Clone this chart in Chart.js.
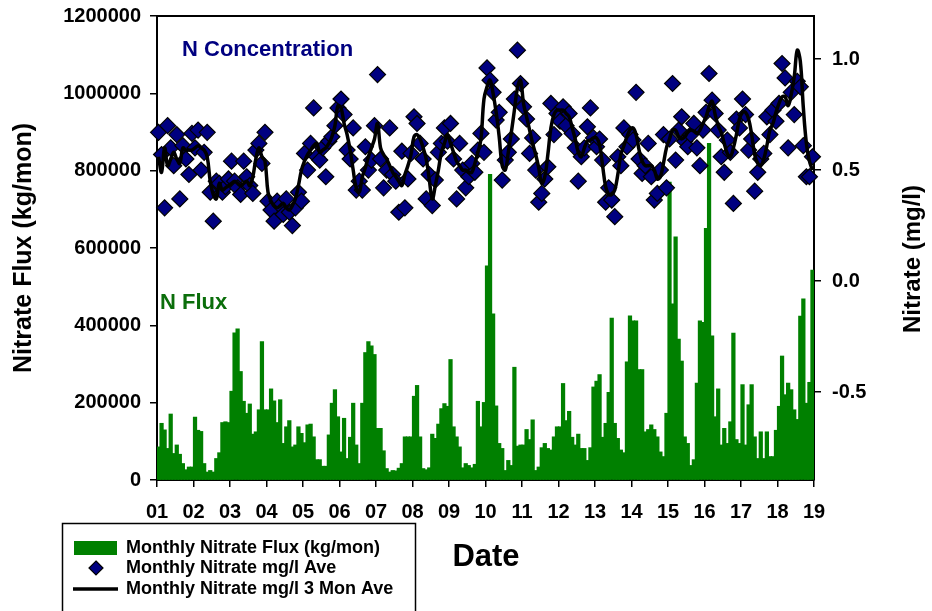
<!DOCTYPE html>
<html>
<head>
<meta charset="utf-8">
<script src="https://cdn.jsdelivr.net/npm/chart.js@4.4.1/dist/chart.umd.min.js"></script>
<style>
  html, body { margin: 0; padding: 0; background: #fff; }
  #wrap { position: relative; width: 932px; height: 611px; }
</style>
</head>
<body>
<div id="wrap"><canvas id="chart" width="932" height="611"></canvas></div>
<script>
const startYear = 2001;
const yearLabels = ['01','02','03','04','05','06','07','08','09','10','11','12','13','14','15','16','17','18','19'];
const leftTicks = [0, 200000, 400000, 600000, 800000, 1000000, 1200000];
const rightTicks = [-0.5, 0.0, 0.5, 1.0];

// monthly nitrate flux, kg/mon, Jan 2001 .. Dec 2018
const fluxKg = [
  85000, 146000, 129000, 81000, 170000, 68000, 90000, 66000, 42000, 26000, 33000, 33000,
  162000, 128000, 125000, 42000, 20000, 24000, 20000, 55000, 70000, 148000, 150000, 148000,
  229000, 380000, 390000, 280000, 203000, 172000, 196000, 118000, 124000, 181000, 357000, 181000,
  181000, 235000, 204000, 148000, 207000, 94000, 137000, 153000, 85000, 90000, 137000, 120000,
  96000, 142000, 144000, 111000, 52000, 52000, 35000, 35000, 116000, 198000, 233000, 163000,
  72000, 159000, 55000, 110000, 198000, 90000, 42000, 198000, 329000, 357000, 346000, 324000,
  133000, 133000, 75000, 29000, 20000, 24000, 23000, 30000, 42000, 111000, 111000, 111000,
  216000, 244000, 111000, 29000, 26000, 31000, 118000, 107000, 144000, 184000, 197000, 190000,
  311000, 137000, 111000, 85000, 31000, 42000, 37000, 31000, 40000, 203000, 137000, 200000,
  553000, 790000, 429000, 191000, 94000, 81000, 24000, 50000, 37000, 291000, 87000, 90000,
  90000, 130000, 104000, 155000, 24000, 33000, 83000, 94000, 81000, 77000, 111000, 137000,
  137000, 249000, 153000, 177000, 110000, 90000, 118000, 81000, 81000, 50000, 83000, 240000,
  255000, 272000, 110000, 146000, 226000, 418000, 146000, 107000, 77000, 70000, 305000, 424000,
  411000, 411000, 285000, 285000, 124000, 130000, 142000, 130000, 111000, 72000, 60000, 172000,
  770000, 455000, 628000, 364000, 307000, 111000, 94000, 37000, 52000, 250000, 411000, 407000,
  650000, 870000, 372000, 163000, 235000, 90000, 133000, 94000, 150000, 379000, 104000, 94000,
  246000, 90000, 194000, 246000, 111000, 55000, 124000, 55000, 124000, 60000, 60000, 128000,
  190000, 320000, 220000, 250000, 233000, 181000, 156000, 423000, 468000, 198000, 252000, 542000
];

// monthly nitrate mg/l ave
const nitrateAve = [
  0.67, 0.57, 0.33, 0.70, 0.60, 0.52, 0.66, 0.37, 0.61, 0.55, 0.48, 0.665,
  0.60, 0.68, 0.50, 0.58, 0.67, 0.40, 0.27, 0.45, 0.44, 0.40, 0.425, 0.46,
  0.54, 0.45, 0.42, 0.39, 0.54, 0.47, 0.43, 0.395, 0.59, 0.62, 0.53, 0.67,
  0.36, 0.32, 0.27, 0.36, 0.34, 0.30, 0.37, 0.31, 0.25, 0.33, 0.40, 0.36,
  0.575, 0.50, 0.62, 0.78, 0.56, 0.545, 0.60, 0.47, 0.63, 0.65, 0.70, 0.78,
  0.82, 0.75, 0.59, 0.55, 0.69, 0.41, 0.45, 0.41, 0.605, 0.50, 0.545, 0.70,
  0.93, 0.55, 0.42, 0.50, 0.69, 0.48, 0.45, 0.31, 0.585, 0.33, 0.46, 0.575,
  0.74, 0.71, 0.62, 0.55, 0.37, 0.48, 0.34, 0.455, 0.58, 0.62, 0.69, 0.63,
  0.71, 0.55, 0.37, 0.62, 0.50, 0.42, 0.47, 0.53, 0.49, 0.59, 0.665, 0.58,
  0.96, 0.905, 0.85, 0.725, 0.76, 0.455, 0.545, 0.58, 0.64, 0.82, 1.04, 0.89,
  0.785, 0.73, 0.575, 0.645, 0.50, 0.355, 0.395, 0.46, 0.515, 0.80, 0.66, 0.755,
  0.72, 0.785, 0.70, 0.755, 0.665, 0.60, 0.45, 0.56, 0.60, 0.695, 0.78, 0.645,
  0.605, 0.64, 0.545, 0.355, 0.42, 0.365, 0.29, 0.56, 0.52, 0.69, 0.605, 0.66,
  0.635, 0.85, 0.55, 0.485, 0.52, 0.62, 0.47, 0.365, 0.395, 0.50, 0.66, 0.42,
  0.64, 0.89, 0.545, 0.68, 0.74, 0.63, 0.605, 0.66, 0.71, 0.60, 0.52, 0.68,
  0.76, 0.935, 0.815, 0.755, 0.68, 0.56, 0.49, 0.635, 0.58, 0.35, 0.73, 0.69,
  0.82, 0.75, 0.59, 0.64, 0.405, 0.49, 0.55, 0.575, 0.74, 0.66, 0.77, 0.72,
  0.80, 0.98, 0.915, 0.60, 0.85, 0.75, 0.90, 0.875, 0.61, 0.47, 0.47, 0.56
];

// monthly nitrate mg/l 3 month ave
const nitrate3Mon = [
  0.56, 0.49, 0.60, 0.52, 0.55, 0.58, 0.55, 0.53, 0.60, 0.59, 0.59, 0.59,
  0.60, 0.61, 0.60, 0.59, 0.56, 0.45, 0.39, 0.37, 0.44, 0.41, 0.42, 0.43,
  0.44, 0.45, 0.44, 0.43, 0.44, 0.45, 0.43, 0.47, 0.55, 0.60, 0.56, 0.54,
  0.40, 0.36, 0.34, 0.33, 0.34, 0.35, 0.33, 0.32, 0.34, 0.37, 0.43, 0.50,
  0.54, 0.57, 0.59, 0.61, 0.62, 0.58, 0.59, 0.60, 0.62, 0.65, 0.70, 0.79,
  0.78, 0.71, 0.66, 0.59, 0.50, 0.42, 0.40, 0.47, 0.51, 0.56, 0.60, 0.64,
  0.71, 0.60, 0.57, 0.55, 0.52, 0.49, 0.47, 0.45, 0.43, 0.48, 0.52, 0.57,
  0.65, 0.66, 0.64, 0.60, 0.55, 0.46, 0.37, 0.43, 0.50, 0.58, 0.62, 0.66,
  0.62, 0.58, 0.54, 0.52, 0.50, 0.50, 0.49, 0.49, 0.53, 0.58, 0.64, 0.82,
  0.875, 0.905, 0.845, 0.76, 0.65, 0.52, 0.50, 0.58, 0.67, 0.77, 0.87, 0.905,
  0.80, 0.74, 0.68, 0.62, 0.57, 0.51, 0.44, 0.47, 0.57, 0.69, 0.75, 0.77,
  0.77, 0.77, 0.755, 0.74, 0.69, 0.64, 0.58, 0.56, 0.60, 0.63, 0.635, 0.645,
  0.645, 0.615, 0.52, 0.425, 0.39, 0.39, 0.41, 0.48, 0.57, 0.61, 0.65, 0.68,
  0.69, 0.66, 0.59, 0.54, 0.52, 0.52, 0.52, 0.50, 0.46, 0.47, 0.53, 0.60,
  0.64, 0.68, 0.68, 0.65, 0.64, 0.65, 0.67, 0.68, 0.675, 0.665, 0.68, 0.71,
  0.74, 0.785, 0.81, 0.75, 0.70, 0.67, 0.62, 0.575, 0.56, 0.60, 0.66, 0.73,
  0.76, 0.76, 0.73, 0.66, 0.57, 0.53, 0.52, 0.55, 0.61, 0.68, 0.71, 0.76,
  0.80, 0.83, 0.83, 0.79, 0.84, 0.92, 1.04, 0.99, 0.78, 0.62, 0.54, 0.50
];

const FONT = "Arial, 'Liberation Sans', sans-serif";
const GREEN = '#008000';
const NAVY = '#000080';

// month i sits in the middle of its month on the year axis
const monthX = fluxKg.map((v, i) => startYear + (i + 0.5) / 12);

const framePlugin = {
  id: 'frame',
  afterDraw(chart) {
    const { ctx, chartArea: a } = chart;
    ctx.save();
    ctx.strokeStyle = '#000';
    ctx.lineWidth = 2;
    ctx.beginPath();
    ctx.moveTo(a.left, a.top);
    ctx.lineTo(a.right, a.top);
    ctx.stroke();

    // notes inside the plot
    ctx.font = 'bold 22px ' + FONT;
    ctx.textBaseline = 'middle';
    ctx.textAlign = 'left';
    ctx.fillStyle = NAVY;
    ctx.fillText('N Concentration', 182, 50);
    ctx.fillStyle = '#0b6e0b';
    ctx.fillText('N Flux', 160, 303);

    // axis titles
    ctx.fillStyle = '#000';
    ctx.font = 'bold 25px ' + FONT;
    ctx.textAlign = 'center';
    ctx.save();
    ctx.translate(24, 248);
    ctx.rotate(-Math.PI / 2);
    ctx.fillText('Nitrate Flux (kg/mon)', 0, 0);
    ctx.restore();
    ctx.font = 'bold 24px ' + FONT;
    ctx.save();
    ctx.translate(913, 259);
    ctx.rotate(-Math.PI / 2);
    ctx.fillText('Nitrate (mg/l)', 0, 0);
    ctx.restore();

    ctx.font = 'bold 31px ' + FONT;
    ctx.fillText('Date', 486, 557);

    // legend box
    ctx.lineWidth = 1.5;
    ctx.strokeStyle = '#000';
    ctx.strokeRect(62.5, 523.5, 353, 100);
    ctx.fillStyle = GREEN;
    ctx.fillRect(74, 541, 43, 14);
    ctx.beginPath();
    ctx.moveTo(96, 561);
    ctx.lineTo(103, 568);
    ctx.lineTo(96, 575);
    ctx.lineTo(89, 568);
    ctx.closePath();
    ctx.fillStyle = NAVY;
    ctx.fill();
    ctx.lineWidth = 1.2;
    ctx.stroke();
    ctx.lineWidth = 3.5;
    ctx.beginPath();
    ctx.moveTo(73, 589);
    ctx.lineTo(118, 589);
    ctx.stroke();
    ctx.fillStyle = '#000';
    ctx.font = 'bold 18px ' + FONT;
    ctx.textAlign = 'left';
    ctx.fillText('Monthly Nitrate Flux (kg/mon)', 126, 548);
    ctx.fillText('Monthly Nitrate mg/l Ave', 126, 568);
    ctx.fillText('Monthly Nitrate mg/l 3 Mon Ave', 126, 589);
    ctx.restore();
  }
};

const tickFont = { family: FONT, size: 20, weight: 'bold' };

function noPad(s) {
  s.paddingTop = 0;
  s.paddingBottom = 0;
  s.paddingLeft = 0;
  s.paddingRight = 0;
}

new Chart(document.getElementById('chart'), {
  type: 'bar',
  data: {
    datasets: [
      {
        type: 'line',
        label: 'Monthly Nitrate mg/l 3 Mon Ave',
        data: nitrate3Mon.map((v, i) => ({ x: monthX[i], y: v })),
        yAxisID: 'y1',
        borderColor: '#000',
        borderWidth: 3.5,
        pointRadius: 0,
        tension: 0.4,
        fill: false,
        order: 1
      },
      {
        type: 'line',
        label: 'Monthly Nitrate mg/l Ave',
        data: nitrateAve.map((v, i) => ({ x: monthX[i], y: v })),
        yAxisID: 'y1',
        showLine: false,
        pointStyle: 'rectRot',
        pointRadius: 8,
        pointBackgroundColor: NAVY,
        pointBorderColor: '#000',
        pointBorderWidth: 1.2,
        clip: false,
        order: 2
      },
      {
        type: 'bar',
        label: 'Monthly Nitrate Flux (kg/mon)',
        data: fluxKg.map((v, i) => ({ x: monthX[i], y: v })),
        yAxisID: 'y',
        backgroundColor: GREEN,
        borderWidth: 0,
        barPercentage: 1,
        categoryPercentage: 1,
        inflateAmount: 0.6,
        order: 3
      }
    ]
  },
  options: {
    responsive: false,
    animation: false,
    devicePixelRatio: 1,
    layout: { padding: { top: 16, left: 0, right: 0, bottom: 0 } },
    plugins: { legend: { display: false }, tooltip: { enabled: false } },
    scales: {
      x: {
        type: 'linear',
        min: startYear,
        max: startYear + yearLabels.length - 1,
        offset: false,
        grid: { display: true, drawOnChartArea: false, drawTicks: true, tickLength: 7, color: '#000', lineWidth: 1.5, offset: false },
        border: { display: true, color: '#000', width: 2 },
        ticks: {
          stepSize: 1,
          autoSkip: false,
          maxRotation: 0,
          padding: 13,
          color: '#000',
          font: tickFont,
          callback: (v) => yearLabels[Math.round(v) - startYear]
        },
        afterFit: (s) => { s.height = 131; noPad(s); }
      },
      y: {
        position: 'left',
        min: 0,
        max: 1200000,
        afterBuildTicks: (s) => { s.ticks = leftTicks.map((v) => ({ value: v })); },
        grid: { drawOnChartArea: false, tickLength: 7, color: '#000', lineWidth: 1.5 },
        border: { display: true, color: '#000', width: 2 },
        ticks: { padding: 9, color: '#000', font: tickFont, callback: (v) => String(v) },
        afterFit: (s) => { s.width = 157; noPad(s); }
      },
      y1: {
        position: 'right',
        min: -0.896,
        max: 1.194,
        afterBuildTicks: (s) => { s.ticks = rightTicks.map((v) => ({ value: v })); },
        grid: { drawOnChartArea: false, tickLength: 7, color: '#000', lineWidth: 1.5 },
        border: { display: true, color: '#000', width: 2 },
        ticks: { padding: 11, color: '#000', font: tickFont, callback: (v) => v.toFixed(1) },
        afterFit: (s) => { s.width = 118; noPad(s); }
      }
    }
  },
  plugins: [framePlugin]
});
</script>
</body>
</html>
